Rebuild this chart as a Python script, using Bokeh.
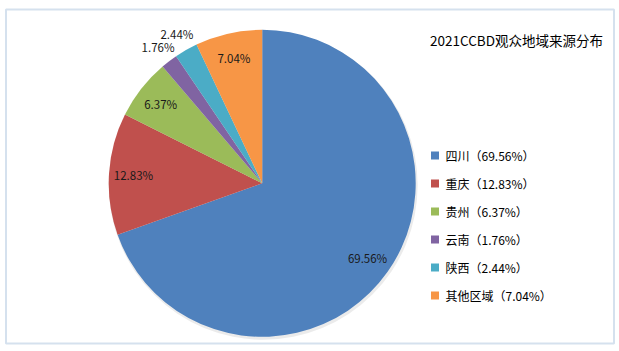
import math
from bokeh.plotting import figure
from bokeh.models import Range1d, ColumnDataSource
from bokeh.core.properties import value
from bokeh.embed import file_html
from bokeh.resources import INLINE

# ---- data ----
regions = ["四川", "重庆", "贵州", "云南", "陕西", "其他区域"]
shares = [69.56, 12.83, 6.37, 1.76, 2.44, 7.04]
colors = ["#4F81BD", "#C0504D", "#9BBB59", "#8064A2", "#4BACC6", "#F79646"]
title_text = "2021CCBD观众地域来源分布"

W, H = 619, 351
FONT = "Noto Sans CJK SC"

p = figure(width=W, height=H, output_backend="svg", toolbar_location=None,
           x_range=Range1d(0, W), y_range=Range1d(0, H), min_border=0)
p.axis.visible = False
p.grid.visible = False
p.outline_line_color = None
p.background_fill_color = "white"
p.border_fill_color = "white"

def Y(ypx):
    return H - ypx

# outer frame
p.rect(x=[W / 2], y=[Y(176)], width=[608], height=[334], fill_color=None,
       line_color="#D5E1EE", line_width=2)

# pie
cx, cy, R = 261.7, Y(182.8), 153.5
total = sum(shares)
starts, ends, mids = [], [], []
cum = 0.0
for s in shares:
    a0 = math.pi / 2 - 2 * math.pi * cum / total
    cum += s
    a1 = math.pi / 2 - 2 * math.pi * cum / total
    starts.append(a0)
    ends.append(a1)
    mids.append((a0 + a1) / 2)

# faint shadow
p.circle(x=[cx + 1], y=[cy - 2], radius=R + 1, fill_color="#000000",
         fill_alpha=0.08, line_color=None)

src = ColumnDataSource(dict(start=starts, end=ends, color=colors))
p.wedge(x=cx, y=cy, radius=R, start_angle="start", end_angle="end",
        direction="clock", fill_color="color", line_color=None, source=src)

# data labels
lx, ly, lt = [], [], []
for s, m in zip(shares, mids):
    r = 1.12 * R if s < 3 else 0.84 * R
    lx.append(cx + r * math.cos(m))
    ly.append(cy + r * math.sin(m))
    lt.append(f"{s:.2f}%")
p.text(x=lx, y=ly, text=lt, text_font=value(FONT), text_font_size="11.5px",
       text_color="#1a1a1a", text_align="center", text_baseline="middle")

# title
p.text(x=[516], y=[Y(39)], text=[title_text], text_font=value(FONT),
       text_font_size="13.5px", text_color="#000000", text_align="center",
       text_baseline="middle")

# legend
leg_y0, leg_dy = 155, 28
sq_x, txt_x = 434.5, 445
leg_y = [Y(leg_y0 + i * leg_dy) for i in range(len(regions))]
leg_txt = [f"{n}（{s:.2f}%）" for n, s in zip(regions, shares)]
p.rect(x=[sq_x] * len(regions), y=leg_y, width=8, height=8,
       fill_color=colors, line_color=None)
p.text(x=[txt_x] * len(regions), y=leg_y, text=leg_txt, text_font=value(FONT),
       text_font_size="12px", text_color="#000000", text_align="left",
       text_baseline="middle")

open("out.html", "w").write(file_html(p, INLINE))
